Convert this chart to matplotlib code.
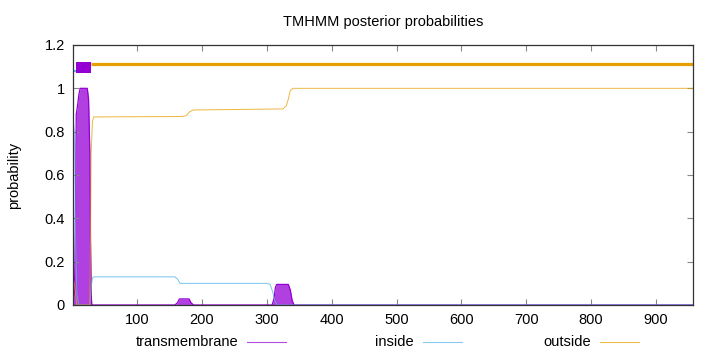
import matplotlib
matplotlib.use("Agg")
import matplotlib.pyplot as plt
from matplotlib.lines import Line2D

plt.rcParams['font.family'] = ['Liberation Sans', 'DejaVu Sans']

seq_len = 957

tm_pos = [1, 3, 4, 5, 6, 8, 10, 12, 23, 25, 27, 28, 29, 30, 158, 162, 165, 180, 183, 187,
          308, 311, 313, 315, 333, 336, 339, 342, 957]
tm_val = [0, 0.05, 0.19, 0.5, 0.88, 0.92, 0.97, 1.0, 1.0, 0.95, 0.7, 0.3, 0.05, 0, 0, 0.01, 0.028, 0.028, 0.01, 0,
          0, 0.03, 0.08, 0.095, 0.095, 0.07, 0.02, 0, 0]

in_pos = [1, 3, 4, 5, 7, 10, 27, 29, 31, 33, 158, 162, 166, 175, 300, 305, 309, 312, 316, 957]
in_val = [0.87, 0.8, 0.6, 0.3, 0.05, 0, 0, 0.08, 0.125, 0.13, 0.13, 0.12, 0.1, 0.1, 0.1, 0.095, 0.06, 0.02, 0, 0]

out_pos = [1, 3, 5, 7, 27, 28, 29, 31, 33, 170, 176, 180, 186, 325, 330, 333, 336, 340, 957]
out_val = [0.13, 0.1, 0.05, 0, 0, 0.3, 0.7, 0.85, 0.868, 0.87, 0.875, 0.89, 0.9, 0.905, 0.92, 0.95, 0.99, 1.0, 1.0]

# predicted topology (segments drawn at the top)
seg_start = [1, 6, 28]
seg_end = [6, 28, seq_len]
seg_kind = ['inside', 'transmembrane', 'outside']

c_tm = '#9400d3'
c_in = '#56b4e9'
c_out = '#e69f00'

fig = plt.figure(figsize=(7.2, 3.52), dpi=100)
ax = fig.add_axes([73 / 720, 47 / 352, 620 / 720, 260 / 352])

ax.fill_between(tm_pos, 0, tm_val, color='#b040e0', lw=0)
ax.plot(tm_pos, tm_val, color=c_tm, lw=0.9)
ax.plot(in_pos, in_val, color=c_in, lw=0.7, alpha=0.8)
ax.plot(out_pos, out_val, color=c_out, lw=0.7, alpha=0.75)

for s, e, k in zip(seg_start, seg_end, seg_kind):
    if k == 'transmembrane':
        ax.fill_between([s, e], 1.07, 1.12, color=c_tm, lw=0)
    elif k == 'inside':
        ax.plot([s, e], [1.08, 1.08], color=c_in, lw=1.5, solid_capstyle='butt')
    else:
        ax.plot([s, e], [1.113, 1.113], color=c_out, lw=2.3, solid_capstyle='butt')

ax.set_xlim(1, seq_len)
ax.set_ylim(0, 1.2)
ax.set_xticks(range(100, 1000, 100))
ax.set_yticks([0, 0.2, 0.4, 0.6, 0.8, 1.0, 1.2])
ax.set_yticklabels(['0', '0.2', '0.4', '0.6', '0.8', '1', '1.2'])
ax.tick_params(direction='in', length=4, top=True, right=True, labelsize=10.5,
               color='#888888', width=0.8, pad=6)
for sp in ax.spines.values():
    sp.set_color('#333333')
    sp.set_linewidth(0.9)

ax.set_ylabel('probability', fontsize=10.5, labelpad=17)
ax.set_title('TMHMM posterior probabilities', fontsize=10.5, pad=14)

# key along the bottom
labels = ['transmembrane', 'inside', 'outside']
colors = [c_tm, c_in, c_out]
sample_end = [286, 462, 639]
for lab, col, xe in zip(labels, colors, sample_end):
    y = 1 - 342 / 352
    fig.text((xe - 48) / 720, y, lab, ha='right', va='center', fontsize=10.5)
    fig.add_artist(Line2D([(xe - 39) / 720, xe / 720], [y, y], color=col, lw=0.8, alpha=0.7))

fig.savefig('out.png', dpi=100)
